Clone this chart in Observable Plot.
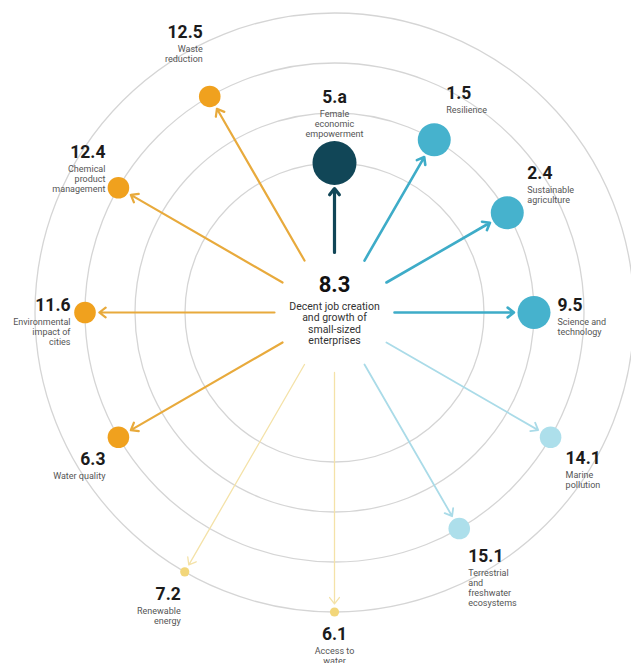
<!DOCTYPE html>
<html><head><meta charset="utf-8">
<script src="https://cdn.jsdelivr.net/npm/d3@7"></script>
<script src="https://cdn.jsdelivr.net/npm/@observablehq/plot@0.6"></script>
<style>
body{margin:0;background:#fff;}
#chart svg{display:block;}
</style></head><body><div id="chart"></div>
<script>
// ---- data ----
const focusGoal = "8.3";
const focusLabel = "Decent job creation\nand growth of\nsmall-sized\nenterprises";
const goals = ["5.a","1.5","2.4","9.5","14.1","15.1","6.1","7.2","6.3","11.6","12.4","12.5"];
const labels = ["Female\neconomic\nempowerment","Resilience","Sustainable\nagriculture","Science and\ntechnology","Marine\npollution","Terrestrial\nand\nfreshwater\necosystems","Access to\nwater","Renewable\nenergy","Water quality","Environmental\nimpact of\ncities","Chemical\nproduct\nmanagement","Waste\nreduction"];
const clockPos = [0,1,2,3,4,5,6,7,8,9,10,11];
const level = [1,2,2,2,3,3,4,4,3,3,3,3];
const tone = ["navy","blue","blue","blue","light","light","pale","pale","orange","orange","orange","orange"];

// ---- layout ----
const W = 631, H = 663, CX = 334, CY = 312;
const ringR = l => 99.5 + 50 * l;
const dotR = {1: 22, 2: 16.5, 3: 10.8, 4: 4.6};
const innerR = 60, gap = 3.5, descGap = 15.5;
const labelNudge = [[0,-65.5],[12,-46],[20,-39],[23.5,-7],[15,21],[9,28],[0,22.5],[-4,22.6],[-13,22],[-14.5,-7],[-13,-35],[-7,-64]];
const toneDot = {navy:"#114657", blue:"#46b2cd", light:"#addfeb", orange:"#f0a11e", pale:"#f2d67a"};
const toneArrow = {navy:"#114657", blue:"#3eacc8", light:"#aadbe8", orange:"#e8aa3c", pale:"#f4e2a8"};
const toneWidth = {navy:3.2, blue:2.6, light:1.8, orange:2.2, pale:1.3};

const rows = goals.map((g, i) => {
  const a = Math.PI / 2 - clockPos[i] * Math.PI / 6;
  const R = ringR(level[i]), r = dotR[level[i]];
  const c = Math.cos(a), s = Math.sin(a);
  const [nx, ny] = labelNudge[i];
  const x = R * c, y = R * s;
  return {
    goal: g, label: labels[i], tone: tone[i], level: level[i], x, y,
    x1: innerR * c, y1: innerR * s, x2: (R - r - gap) * c, y2: (R - r - gap) * s,
    lx: x + nx, ly: y - ny, dly: y - ny - descGap + 0.35 * 9,
    anchor: nx > 2 ? "start" : nx < -2 ? "end" : "middle"
  };
});

const font = "Roboto, 'Noto Sans', sans-serif";
const marks = [];
[1,2,3,4].forEach(l => marks.push(Plot.dot([l], {x: () => 0, y: () => 0, r: ringR(l), fill: "none", stroke: "#d5d5d5", strokeWidth: 1.3})));
Object.keys(toneArrow).forEach(t => {
  const sw = toneWidth[t];
  marks.push(Plot.arrow(rows.filter(d => d.tone === t), {
    x1: "x1", y1: "y1", x2: "x2", y2: "y2",
    stroke: toneArrow[t], strokeWidth: sw, headLength: 12 / sw, headAngle: 75
  }));
});
[1,2,3,4].forEach(l => Object.keys(toneDot).forEach(t => {
  const sub = rows.filter(d => d.level === l && d.tone === t);
  if (sub.length) marks.push(Plot.dot(sub, {x: "x", y: "y", r: dotR[l], fill: toneDot[t], stroke: "none"}));
}));
["start","middle","end"].forEach(a => {
  const sub = rows.filter(d => d.anchor === a);
  marks.push(Plot.text(sub, {x: "lx", y: "ly", text: "goal", textAnchor: a, fontSize: 17.5, fontWeight: 700, fill: "#1b1b1b", fontFamily: font}));
  marks.push(Plot.text(sub, {x: "lx", y: "dly", text: "label", textAnchor: a, lineAnchor: "top", fontSize: 9, lineHeight: 1.11, fill: "#555", fontFamily: font}));
});
marks.push(Plot.text([focusGoal], {x: () => 0, y: () => 28, text: d => d, fontSize: 22, fontWeight: 700, fill: "#111", fontFamily: font}));
marks.push(Plot.text([focusLabel], {x: () => 0, y: () => 7 + 0.35 * 10.5, text: d => d, lineAnchor: "top", fontSize: 10.5, lineHeight: 1.08, fill: "#333", fontFamily: font}));

const chart = Plot.plot({
  width: W, height: H, margin: 0,
  x: {domain: [-CX, W - CX], axis: null},
  y: {domain: [CY - H, CY], axis: null},
  style: {fontFamily: font, background: "#fff"},
  marks
});
document.getElementById("chart").appendChild(chart);
</script></body></html>
